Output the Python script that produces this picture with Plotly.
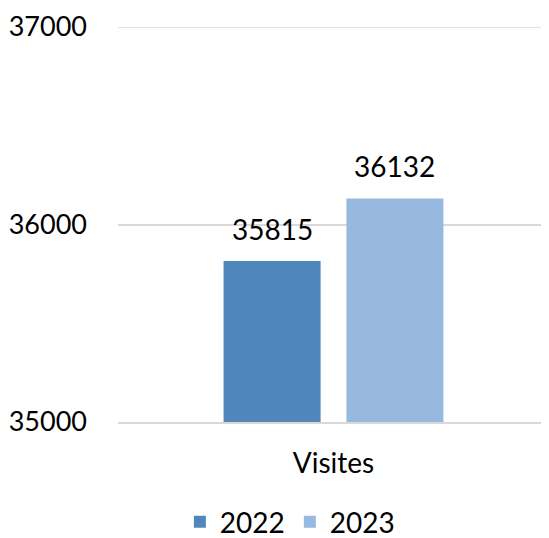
import plotly.graph_objects as go

categories = ["Visites"]
years = ["2022", "2023"]
values_2022 = [35815]
values_2023 = [36132]
colors = ["#4F87BB", "#98B9DF"]
y_ticks = [35000, 36000, 37000]
y_tick_text = ["35000", "36000", "37000"]

FONT = "Lato"

fig = go.Figure()
series = [values_2022, values_2023]
for yr, vals, col in zip(years, series, colors):
    fig.add_trace(go.Bar(x=categories, y=vals, name=yr, marker_color=col,
                         marker_line_width=0))

# value labels above bars
offsets = [-61, 61]
for vals, off in zip(series, offsets):
    for c, v in zip(categories, vals):
        fig.add_annotation(x=c, y=v, text=str(v), showarrow=False,
                           xshift=off, yshift=13, yanchor="bottom",
                           font=dict(family=FONT, size=28, color="#000000"))

# top gridline (plotly skips it at the range edge)
fig.add_hline(y=y_ticks[-1], line_color="#D9D9D9", line_width=1.5, layer="below")

# page body has an 8px margin, so the figure is 8px smaller
fig.update_layout(
    width=541, height=530,
    margin=dict(l=110, r=0, t=19, b=116, autoexpand=False),
    paper_bgcolor="white", plot_bgcolor="white",
    barmode="group", bargap=0.43, bargroupgap=0.21,
    font=dict(family=FONT, size=28, color="#000000"),
    showlegend=True,
    legend=dict(orientation="h", xref="container", yref="container",
                x=0.521, y=0.03, xanchor="center", yanchor="middle",
                font=dict(family=FONT, size=28), itemwidth=30,
                tracegroupgap=0, traceorder="normal"),
)
fig.update_yaxes(range=[35000, 37000], tickvals=y_ticks, ticktext=y_tick_text,
                 tickfont=dict(size=27),
                 showgrid=True, gridcolor="#D9D9D9", gridwidth=1.5,
                 zeroline=False, showline=False, ticks="",
                 ticklabelstandoff=30)
fig.update_xaxes(showline=True, linecolor="#D9D9D9", linewidth=1.5,
                 ticks="", ticklabelstandoff=16)

fig.write_html("out.html")
